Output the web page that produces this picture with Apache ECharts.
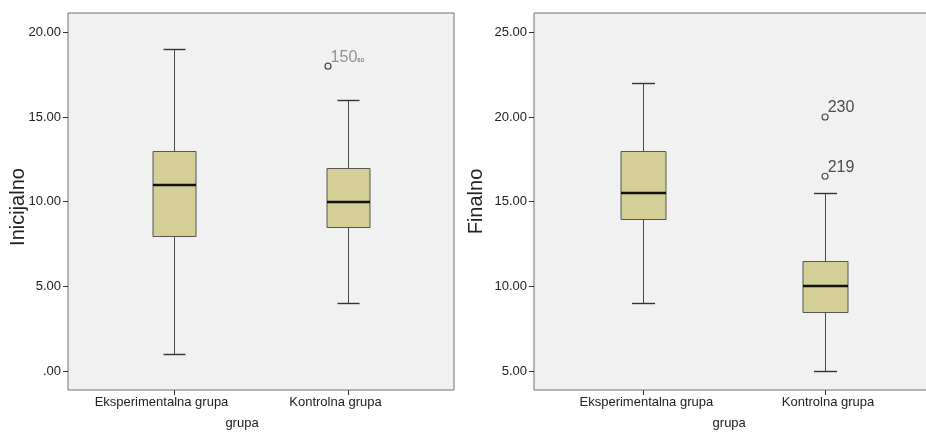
<!DOCTYPE html>
<html>
<head>
<meta charset="utf-8">
<script src="https://cdn.jsdelivr.net/npm/echarts@6/dist/echarts.min.js"></script>
<style>
  html, body { margin: 0; padding: 0; background: #ffffff; }
  #chart { width: 926px; height: 435px; }
</style>
</head>
<body>
<div id="chart"></div>
<script>
// ---- data ----
const categories = ['Eksperimentalna grupa', 'Kontrolna grupa'];
// [min, Q1, median, Q3, max]
const inicijalnoStats = [[1, 8, 11, 13, 19], [4, 8.5, 10, 12, 16]];
const finalnoStats = [[9, 14, 15.5, 18, 22], [5, 8.5, 10, 11.5, 15.5]];
// outliers: [category index, value, case label, overlapped label]
const inicijalnoOutliers = [[1, 18, '150', '60']];
const finalnoOutliers = [[1, 20, '230', ''], [1, 16.5, '219', '']];
const inicijalnoTicks = [0, 5, 10, 15, 20];
const finalnoTicks = [5, 10, 15, 20, 25];
const xAxisName = 'grupa';
const yAxisNames = ['Inicijalno', 'Finalno'];

// ---- rendering ----
const FONT = "'Liberation Sans', Arial, sans-serif";
const BG = '#f0f1f0';
const BOX_FILL = '#d4cf97';

function fmt(v) { return v === 0 ? '.00' : v.toFixed(2); }

function renderBox(params, api) {
  const c = api.value(0);
  const lo = api.coord([c, api.value(1)]);
  const q1 = api.coord([c, api.value(2)]);
  const md = api.coord([c, api.value(3)]);
  const q3 = api.coord([c, api.value(4)]);
  const hi = api.coord([c, api.value(5)]);
  const band = api.size([1, 0])[0];
  const bw = Math.round(band * 0.248);
  const cw = Math.round(bw / 2);
  const cx = Math.round(lo[0]) + 0.5;
  const r = v => Math.round(v) + 0.5;
  const lineStyle = { stroke: '#4a4a4a', lineWidth: 1 };
  return {
    type: 'group',
    children: [
      { type: 'line', shape: { x1: cx, y1: r(hi[1]), x2: cx, y2: r(q3[1]) }, style: lineStyle },
      { type: 'line', shape: { x1: cx, y1: r(q1[1]), x2: cx, y2: r(lo[1]) }, style: lineStyle },
      { type: 'line', shape: { x1: cx - cw / 2, y1: r(hi[1]), x2: cx + cw / 2, y2: r(hi[1]) }, style: { stroke: '#333', lineWidth: 1.4 } },
      { type: 'line', shape: { x1: cx - cw / 2, y1: r(lo[1]), x2: cx + cw / 2, y2: r(lo[1]) }, style: { stroke: '#333', lineWidth: 1.4 } },
      { type: 'rect', shape: { x: cx - bw / 2, y: r(q3[1]), width: bw, height: Math.round(q1[1]) - Math.round(q3[1]) },
        style: { fill: BOX_FILL, stroke: '#555', lineWidth: 1 } },
      { type: 'line', shape: { x1: cx - bw / 2, y1: Math.round(md[1]), x2: cx + bw / 2, y2: Math.round(md[1]) },
        style: { stroke: '#111', lineWidth: 2.6 } }
    ]
  };
}

const panels = [
  { frame: { left: 68, top: 13, width: 386, height: 377 }, data: { left: 87, width: 348 },
    yMin: -1.12, yMax: 21.14, ticks: inicijalnoTicks, stats: inicijalnoStats, outliers: inicijalnoOutliers,
    yName: yAxisNames[0], yNameGap: 40, yNamePad: [0, 11, 0, 0], xLabelPad: [0, 25, 0, 0], xNamePad: [0, 38, 0, 0],
    outColor: '#7a7a7a', outOffset: -20 },
  { frame: { left: 534, top: 13, width: 401, height: 377 }, data: { left: 552.5, width: 363.4 },
    yMin: 3.878, yMax: 26.14, ticks: finalnoTicks, stats: finalnoStats, outliers: finalnoOutliers,
    yName: yAxisNames[1], yNameGap: 48, yNamePad: [0, 0, 0, 0], xLabelPad: [0, 0, 0, 6], xNamePad: [0, 10, 0, 0],
    outColor: '#222', outOffset: 0 }
];

const grid = [], xAxis = [], yAxis = [], series = [];
panels.forEach((p, i) => {
  const gFrame = grid.length;
  grid.push({ left: p.frame.left, top: p.frame.top, width: p.frame.width, height: p.frame.height,
    show: true, backgroundColor: BG, borderColor: '#707070', borderWidth: 1, outerBoundsMode: 'none', containLabel: false });
  const gData = grid.length;
  grid.push({ left: p.data.left, top: p.frame.top, width: p.data.width, height: p.frame.height,
    show: false, outerBoundsMode: 'none', containLabel: false });

  xAxis.push({ type: 'value', gridIndex: gFrame, show: false, min: 0, max: 1 });
  const xData = xAxis.length;
  xAxis.push({
    type: 'category', gridIndex: gData, data: categories, position: 'bottom',
    axisLine: { show: false, onZero: false },
    axisTick: { show: true, alignWithLabel: true, length: 5, lineStyle: { color: '#333' } },
    axisLabel: { margin: 6, fontSize: 13, color: '#222', fontFamily: FONT, padding: p.xLabelPad },
    splitLine: { show: false },
    name: xAxisName, nameLocation: 'middle', nameGap: 27, nameMoveOverlap: false,
    nameTextStyle: { fontSize: 13, color: '#222', fontFamily: FONT, padding: p.xNamePad }
  });

  yAxis.push({
    type: 'value', gridIndex: gFrame, min: p.yMin, max: p.yMax,
    axisLine: { show: false },
    axisTick: { show: true, length: 5, customValues: p.ticks, lineStyle: { color: '#333' } },
    axisLabel: { show: true, customValues: p.ticks, formatter: fmt, margin: 7, fontSize: 13, color: '#222', fontFamily: FONT },
    splitLine: { show: false },
    name: p.yName, nameLocation: 'middle', nameGap: p.yNameGap, nameMoveOverlap: false,
    nameTextStyle: { fontSize: 20, color: '#222', fontFamily: FONT, padding: p.yNamePad }
  });
  const yData = yAxis.length;
  yAxis.push({ type: 'value', gridIndex: gData, min: p.yMin, max: p.yMax, show: false, splitLine: { show: false } });

  series.push({
    type: 'custom', xAxisIndex: xData, yAxisIndex: yData,
    data: p.stats.map((s, k) => [k].concat(s)),
    encode: { x: 0, y: [1, 2, 3, 4, 5] },
    renderItem: renderBox, silent: true, z: 3
  });
  series.push({
    type: 'scatter', xAxisIndex: xData, yAxisIndex: yData,
    data: p.outliers.map(o => ({ value: [o[0], o[1]], name: o[2], extra: o[3] })),
    symbol: 'circle', symbolSize: 6, symbolOffset: [p.outOffset, 0],
    itemStyle: { color: BG, borderColor: '#222', borderWidth: 1.2 },
    label: {
      show: true, position: 'right', distance: 0, offset: [-1, -9],
      formatter: d => d.data.extra ? '{a|' + d.name + '}{b|' + d.data.extra + '}' : '{a|' + d.name + '}',
      rich: {
        a: { fontSize: 16, color: p.outColor, fontFamily: FONT },
        b: { fontSize: 6, color: '#333', fontFamily: FONT, padding: [6, 0, 0, 0] }
      }
    },
    silent: true, z: 4
  });
});

const chart = echarts.init(document.getElementById('chart'), null, { renderer: 'canvas' });
chart.setOption({
  animation: false,
  backgroundColor: '#ffffff',
  textStyle: { fontFamily: FONT },
  grid: grid, xAxis: xAxis, yAxis: yAxis, series: series
});
</script>
</body>
</html>
